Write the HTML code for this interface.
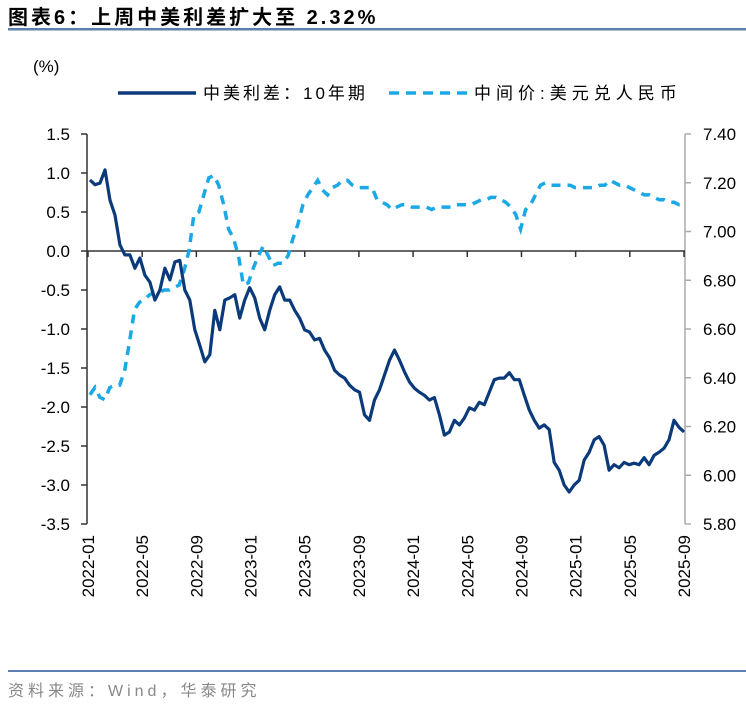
<!DOCTYPE html>
<html><head><meta charset="utf-8"><style>
body{margin:0;background:#fff;width:746px;height:706px;overflow:hidden;font-family:"Liberation Sans","Noto Sans CJK SC",sans-serif}
svg text{font-family:"Liberation Sans","Noto Sans CJK SC",sans-serif}
</style></head><body>
<svg id="chart" width="746" height="706">
<text x="8" y="24" font-size="20" font-weight="bold" letter-spacing="3" fill="#000">图表6：上周中美利差扩大至 2.32%</text>
<rect x="8" y="28" width="738" height="2.5" fill="#5b7fae"/>
<text x="33" y="72" font-size="17" fill="#000">(%)</text>
<g>
<line x1="118" y1="93" x2="196" y2="93" stroke="#0b3a7a" stroke-width="3.5"/>
<text x="203" y="99" font-size="17" letter-spacing="3" fill="#000">中美利差：10年期</text>
<line x1="389" y1="93" x2="467" y2="93" stroke="#1ba8e6" stroke-width="3.5" stroke-dasharray="10,7"/>
<text x="474" y="99" font-size="17" letter-spacing="5" fill="#000">中间价:美元兑人民币</text>
</g>
<g id="axes"></g>
<g id="series"></g>
<rect x="8" y="670" width="738" height="2" fill="#5b7fae"/>
<text x="8" y="696" font-size="16" letter-spacing="4" fill="#888">资料来源：Wind，华泰研究</text>
</svg>
<script>
const leftTicks=["1.5","1.0","0.5","0.0","-0.5","-1.0","-1.5","-2.0","-2.5","-3.0","-3.5"];
const rightTicks=["7.40","7.20","7.00","6.80","6.60","6.40","6.20","6.00","5.80"];
const xLabels=["2022-01","2022-05","2022-09","2023-01","2023-05","2023-09","2024-01","2024-05","2024-09","2025-01","2025-05","2025-09"];
const spread=[0.91,0.85,0.87,1.04,0.65,0.46,0.08,-0.05,-0.05,-0.22,-0.09,-0.31,-0.40,-0.63,-0.50,-0.22,-0.37,-0.14,-0.12,-0.50,-0.63,-1.01,-1.21,-1.42,-1.33,-0.76,-1.01,-0.63,-0.60,-0.56,-0.86,-0.63,-0.47,-0.60,-0.86,-1.01,-0.76,-0.56,-0.46,-0.63,-0.63,-0.76,-0.86,-1.01,-1.04,-1.14,-1.12,-1.27,-1.37,-1.53,-1.59,-1.63,-1.72,-1.78,-1.81,-2.10,-2.17,-1.91,-1.78,-1.59,-1.40,-1.27,-1.40,-1.55,-1.68,-1.76,-1.81,-1.85,-1.91,-1.88,-2.10,-2.36,-2.32,-2.17,-2.23,-2.14,-2.01,-2.04,-1.94,-1.97,-1.81,-1.65,-1.63,-1.63,-1.56,-1.65,-1.65,-1.85,-2.04,-2.17,-2.27,-2.23,-2.29,-2.71,-2.81,-3.00,-3.09,-3.00,-2.94,-2.68,-2.58,-2.42,-2.38,-2.49,-2.81,-2.74,-2.78,-2.71,-2.74,-2.72,-2.74,-2.65,-2.74,-2.62,-2.58,-2.53,-2.42,-2.17,-2.26,-2.32];
const cny=[6.33,6.36,6.32,6.31,6.36,6.37,6.37,6.43,6.55,6.68,6.71,6.72,6.74,6.75,6.75,6.76,6.76,6.77,6.78,6.84,6.92,7.07,7.08,7.15,7.22,7.23,7.19,7.11,7.01,6.97,6.90,6.78,6.79,6.85,6.90,6.94,6.90,6.86,6.87,6.87,6.90,6.97,7.03,7.11,7.15,7.18,7.21,7.17,7.15,7.18,7.19,7.21,7.21,7.19,7.18,7.18,7.18,7.18,7.13,7.12,7.11,7.09,7.10,7.11,7.11,7.10,7.10,7.10,7.10,7.09,7.10,7.10,7.10,7.10,7.11,7.11,7.11,7.11,7.12,7.13,7.13,7.14,7.14,7.13,7.12,7.10,7.07,7.01,7.09,7.11,7.15,7.19,7.20,7.19,7.19,7.19,7.19,7.19,7.18,7.18,7.18,7.18,7.18,7.19,7.19,7.21,7.20,7.19,7.19,7.18,7.17,7.16,7.15,7.15,7.14,7.13,7.13,7.12,7.12,7.11,7.11];
const NS="http://www.w3.org/2000/svg";
const X0=88,X1=684,YT=134,YB=524;
const yL=v=>YT+(1.5-v)/5*(YB-YT);
const yR=v=>YT+(7.4-v)/1.6*(YB-YT);
const xi=(i,n)=>X0+2+i*(X1-X0-2)/(n-1);
function mk(tag,attrs,parent){const e=document.createElementNS(NS,tag);for(const k in attrs)e.setAttribute(k,attrs[k]);parent.appendChild(e);return e;}
const ax=document.getElementById('axes'),se=document.getElementById('series');
let e=mk('line',{x1:87,y1:YT,x2:87,y2:YB,stroke:'#333','stroke-width':1.5},ax);


e=mk('line',{x1:685,y1:YT,x2:685,y2:YB,stroke:'#aaa','stroke-width':1.5},ax);


leftTicks.forEach(t=>{const y=yL(parseFloat(t));
 mk('line',{x1:81,y1:y,x2:87,y2:y,stroke:'#333','stroke-width':1.5},ax);
 const tx=mk('text',{x:70,y:y+6,'font-size':17,'text-anchor':'end',fill:'#000'},ax);tx.textContent=t;
 
 });
rightTicks.forEach(t=>{const y=yR(parseFloat(t));
 mk('line',{x1:685,y1:y,x2:691,y2:y,stroke:'#aaa','stroke-width':1.5},ax);
 const tx=mk('text',{x:703,y:y+6,'font-size':17,fill:'#000'},ax);tx.textContent=t;
 
 });
e=mk('line',{x1:87,y1:yL(0),x2:685,y2:yL(0),stroke:'#333','stroke-width':1.5},ax);


xLabels.forEach((t,i)=>{const x=X0+i*(X1-X0)/(xLabels.length-1);
 mk('line',{x1:x,y1:yL(0),x2:x,y2:yL(0)+6,stroke:'#333','stroke-width':1.5},ax);
 const tx=mk('text',{x:0,y:0,'font-size':17,'text-anchor':'end',fill:'#000',transform:`translate(${x+6},535) rotate(-90)`},ax);tx.textContent=t;
 
 });
let d='';cny.forEach((v,i)=>{d+=(i?'L':'M')+xi(i,cny.length).toFixed(1)+','+yR(v).toFixed(1);});
e=mk('path',{d:d,fill:'none',stroke:'#1ba8e6','stroke-width':3.5,'stroke-dasharray':'9,7'},se);


d='';spread.forEach((v,i)=>{d+=(i?'L':'M')+xi(i,spread.length).toFixed(1)+','+yL(v).toFixed(1);});
e=mk('path',{d:d,fill:'none',stroke:'#0b3a7a','stroke-width':3.2,'stroke-linejoin':'round'},se);


</script>
</body></html>
